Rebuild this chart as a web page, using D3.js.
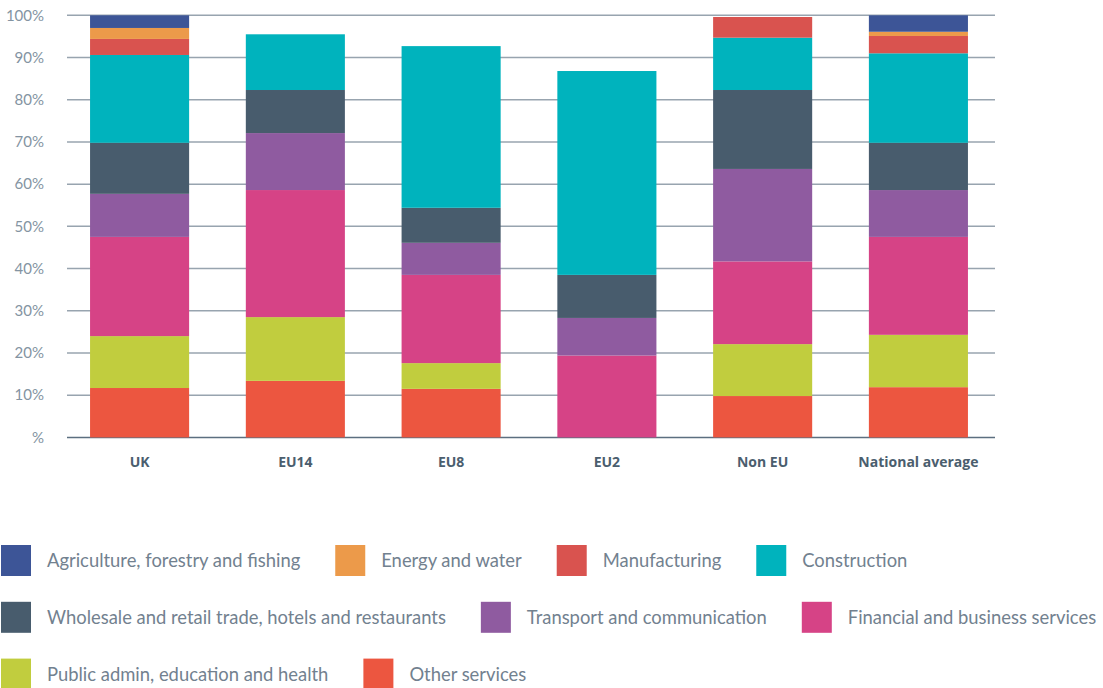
<!DOCTYPE html>
<html>
<head>
<meta charset="utf-8">
<script src="https://cdn.jsdelivr.net/npm/d3@7"></script>
<style>
  body { margin: 0; background: #fff; }
  svg { display: block; font-family: Lato, "Open Sans", sans-serif; }
</style>
</head>
<body>
<svg id="chart" width="1103" height="688"></svg>
<script>
// categories along the x axis
const groups = ['UK', 'EU14', 'EU8', 'EU2', 'Non EU', 'National average'];

// sectors, bottom of the stack first
const sectors = [
    'Other services',
    'Public admin, education and health',
    'Financial and business services',
    'Transport and communication',
    'Wholesale and retail trade, hotels and restaurants',
    'Construction',
    'Manufacturing',
    'Energy and water',
    'Agriculture, forestry and fishing'
];

const colors = ['#ec5640', '#c1cd3e', '#d64386', '#8f5ba0', '#485c6d', '#00b3bd', '#d9534f', '#ec9a4a', '#3d5597'];

// share of workers (%) per sector, one value per group
const otherServices = [11.7, 13.4, 11.5, 0, 9.8, 11.9];
const publicAdmin   = [12.3, 15.1, 6.1, 0, 12.3, 12.4];
const financial     = [23.5, 30.1, 20.9, 19.4, 19.6, 23.2];
const transport     = [10.2, 13.5, 7.6, 8.9, 21.9, 11.1];
const wholesale     = [12.1, 10.2, 8.3, 10.2, 18.7, 11.2];
const construction  = [20.8, 13.2, 38.3, 48.3, 12.4, 21.2];
const manufacturing = [3.8, 0, 0, 0, 4.9, 4.1];
const energy        = [2.6, 0, 0, 0, 0, 1.0];
const agriculture   = [3.0, 0, 0, 0, 0, 3.9];

const series = [otherServices, publicAdmin, financial, transport, wholesale, construction, manufacturing, energy, agriculture];

const yTicks = [0, 10, 20, 30, 40, 50, 60, 70, 80, 90, 100];
const yTickLabels = ['%', '10%', '20%', '30%', '40%', '50%', '60%', '70%', '80%', '90%', '100%'];

// legend order, row by row (indices into sectors)
const legendRows = [[8, 7, 6, 5], [4, 3, 2], [1, 0]];

// build a table the stack layout can eat
const table = groups.map((g, i) => {
    const row = { group: g };
    sectors.forEach((s, j) => { row[s] = series[j][i]; });
    return row;
});

const svg = d3.select('#chart');

const x = d3.scaleBand()
    .domain(groups)
    .range([67, 991])
    .paddingInner(0.364)
    .paddingOuter(0.148);

const y = d3.scaleLinear()
    .domain([0, 100])
    .range([437.4, 15.3]);

// gridlines
svg.append('g')
    .selectAll('line')
    .data(yTicks)
    .enter().append('line')
    .attr('x1', 67)
    .attr('x2', 995)
    .attr('y1', d => y(d))
    .attr('y2', d => y(d))
    .attr('stroke', d => d === 0 ? '#5c6f80' : '#98a4af')
    .attr('stroke-width', 1.5);

// y tick labels
svg.append('g')
    .selectAll('text')
    .data(yTicks)
    .enter().append('text')
    .attr('x', 44)
    .attr('y', d => y(d))
    .attr('dy', '0.35em')
    .attr('text-anchor', 'end')
    .attr('fill', '#8494a2')
    .attr('font-size', '15px')
    .text((d, i) => yTickLabels[i]);

const stack = d3.stack().keys(sectors);
const layers = stack(table);

svg.append('g')
    .selectAll('g')
    .data(layers)
    .enter().append('g')
    .attr('fill', (d, i) => colors[i])
    .selectAll('rect')
    .data(d => d)
    .enter().append('rect')
    .attr('x', d => x(d.data.group))
    .attr('width', x.bandwidth())
    .attr('y', d => y(d[1]))
    .attr('height', d => y(d[0]) - y(d[1]));

// category labels
svg.append('g')
    .selectAll('text')
    .data(groups)
    .enter().append('text')
    .attr('x', d => x(d) + x.bandwidth() / 2)
    .attr('y', 467)
    .attr('text-anchor', 'middle')
    .attr('fill', '#4b5e6e')
    .attr('font-size', '14px')
    .attr('font-family', '"Open Sans", sans-serif')
    .attr('font-weight', 'bold')
    .text(d => d);

// legend, simple flow inside each row
const legend = svg.append('g');
legendRows.forEach((row, r) => {
    let cx = 1;
    const cy = 560.5 + r * 56.8;
    row.forEach(k => {
        legend.append('rect')
            .attr('x', cx)
            .attr('y', cy - 15.5)
            .attr('width', 30)
            .attr('height', 31)
            .attr('fill', colors[k]);
        const t = legend.append('text')
            .attr('x', cx + 46)
            .attr('y', cy)
            .attr('dy', '0.35em')
            .attr('fill', '#72818f')
            .attr('font-size', '18.4px')
            .text(sectors[k]);
        cx += 46 + t.node().getComputedTextLength() + 35;
    });
});
</script>
</body>
</html>
